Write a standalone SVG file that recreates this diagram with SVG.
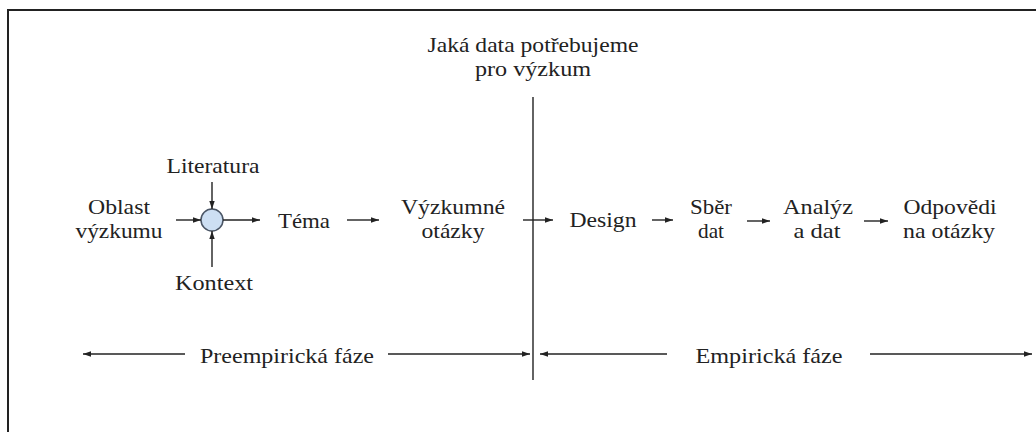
<svg xmlns="http://www.w3.org/2000/svg" width="1036" height="432" viewBox="0 0 1036 432">
<style>
.t{font-family:'Liberation Serif','Times New Roman',serif;font-size:22px;fill:#222;text-anchor:middle}
.c{stroke:#222;stroke-width:1.4;fill:none}
</style>
<defs>
<marker id="ah" markerUnits="userSpaceOnUse" markerWidth="9" markerHeight="7" refX="8" refY="3.5" orient="auto">
<path d="M0,0.8 L8,3.5 L0,6.2 Z" fill="#222"/>
</marker>
</defs>
<rect x="8" y="10" width="1040" height="440" fill="#fff" stroke="#222" stroke-width="2"/>
<g id="title"><text class="t" x="533" y="52" textLength="211" lengthAdjust="spacingAndGlyphs">Jaká data potřebujeme</text><text class="t" x="533" y="76" textLength="116" lengthAdjust="spacingAndGlyphs">pro výzkum</text></g>
<g id="oblast"><text class="t" x="119" y="214" textLength="62" lengthAdjust="spacingAndGlyphs">Oblast</text><text class="t" x="119" y="238" textLength="87" lengthAdjust="spacingAndGlyphs">výzkumu</text></g>
<g id="literatura"><text class="t" x="213" y="173" textLength="93" lengthAdjust="spacingAndGlyphs">Literatura</text></g>
<g id="kontext"><text class="t" x="214" y="290" textLength="78" lengthAdjust="spacingAndGlyphs">Kontext</text></g>
<g id="hub"><circle cx="212" cy="220" r="11" fill="#cddff3" stroke="#4a5565" stroke-width="1.5"/></g>
<g id="tema"><text class="t" x="304" y="228" textLength="52" lengthAdjust="spacingAndGlyphs">Téma</text></g>
<g id="otazky"><text class="t" x="453" y="214" textLength="104" lengthAdjust="spacingAndGlyphs">Výzkumné</text><text class="t" x="453" y="238" textLength="63" lengthAdjust="spacingAndGlyphs">otázky</text></g>
<g id="design"><text class="t" x="603" y="227" textLength="67" lengthAdjust="spacingAndGlyphs">Design</text></g>
<g id="sber"><text class="t" x="711" y="214" textLength="42" lengthAdjust="spacingAndGlyphs">Sběr</text><text class="t" x="711" y="238" textLength="26" lengthAdjust="spacingAndGlyphs">dat</text></g>
<g id="analyza"><text class="t" x="818" y="214" textLength="70" lengthAdjust="spacingAndGlyphs">Analýz</text><text class="t" x="817" y="238" textLength="47" lengthAdjust="spacingAndGlyphs">a dat</text></g>
<g id="odpovedi"><text class="t" x="950" y="214" textLength="93" lengthAdjust="spacingAndGlyphs">Odpovědi</text><text class="t" x="949" y="238" textLength="92" lengthAdjust="spacingAndGlyphs">na otázky</text></g>
<g id="preempiricka"><text class="t" x="287" y="363" textLength="174" lengthAdjust="spacingAndGlyphs">Preempirická fáze</text></g>
<g id="empiricka"><text class="t" x="769" y="363" textLength="147" lengthAdjust="spacingAndGlyphs">Empirická fáze</text></g>
<g id="connectors">
<line class="c" x1="533" y1="97" x2="533" y2="380" stroke-width="1.6"/>
<line class="c" x1="176" y1="220" x2="201" y2="220" marker-end="url(#ah)"/>
<line class="c" x1="212" y1="182" x2="212" y2="209" marker-end="url(#ah)"/>
<line class="c" x1="212" y1="267" x2="212" y2="231" marker-end="url(#ah)"/>
<line class="c" x1="223" y1="220" x2="260" y2="220" marker-end="url(#ah)"/>
<line class="c" x1="347" y1="220" x2="379" y2="220" marker-end="url(#ah)"/>
<line class="c" x1="523" y1="220" x2="553" y2="220" marker-end="url(#ah)"/>
<line class="c" x1="652" y1="220" x2="673" y2="220" marker-end="url(#ah)"/>
<line class="c" x1="747" y1="221" x2="770" y2="221" marker-end="url(#ah)"/>
<line class="c" x1="864" y1="221" x2="888" y2="221" marker-end="url(#ah)"/>
<line class="c" x1="185" y1="354" x2="83" y2="354" marker-end="url(#ah)"/>
<line class="c" x1="388" y1="354" x2="530" y2="354" marker-end="url(#ah)"/>
<line class="c" x1="667" y1="354" x2="540" y2="354" marker-end="url(#ah)"/>
<line class="c" x1="870" y1="354" x2="1032" y2="354" marker-end="url(#ah)"/>
</g>
</svg>
